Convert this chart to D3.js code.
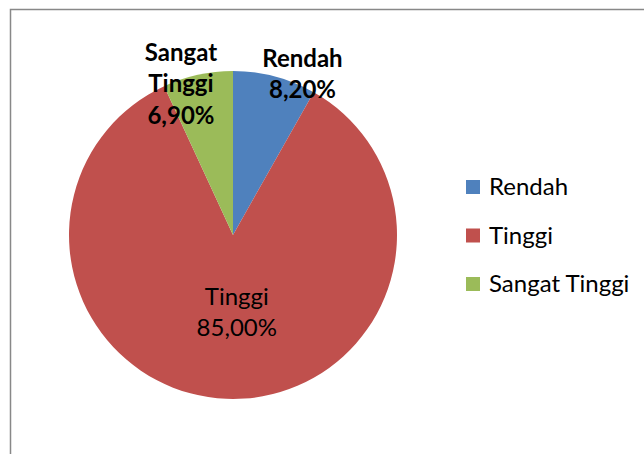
<!DOCTYPE html>
<html>
<head>
<meta charset="utf-8">
<script src="https://cdn.jsdelivr.net/npm/d3@7"></script>
<style>
  body { margin: 0; background: #fff; }
  svg { display: block; font-family: Lato, "Open Sans", sans-serif; }
</style>
</head>
<body>
<svg id="chart" width="644" height="454"></svg>
<script>
// data
var categories = ["Rendah", "Tinggi", "Sangat Tinggi"];
var values = [8.2, 85.0, 6.9];
var valueLabels = ["8,20%", "85,00%", "6,90%"];
var colors = ["#4f81bd", "#c0504d", "#9bbb59"];

var svg = d3.select("#chart");
var width = +svg.attr("width");
var height = +svg.attr("height");

// chart frame (runs off the right / bottom edge like the screenshot)
svg.append("rect")
    .attr("x", 10.5)
    .attr("y", 9.5)
    .attr("width", width + 20)
    .attr("height", height + 20)
    .attr("fill", "#fff")
    .attr("stroke", "#888")
    .attr("stroke-width", 1.5);

var cx = 233, cy = 235, radius = 164;

var pie = d3.pie().sort(null).value(function(d) { return d; });
var arcs = pie(values);
var arc = d3.arc().innerRadius(0).outerRadius(radius);

var g = svg.append("g").attr("transform", "translate(" + cx + "," + cy + ")");

g.selectAll("path.slice")
    .data(arcs)
    .enter().append("path")
    .attr("class", "slice")
    .attr("d", arc)
    .attr("fill", function(d, i) { return colors[i]; });

// labels: big slice inside, small slices outside end (bold)
function polar(angle, r) {
    return [Math.sin(angle) * r, -Math.cos(angle) * r];
}
var lineH = 31.5;
arcs.forEach(function(a, i) {
    var mid = (a.startAngle + a.endAngle) / 2;
    var inside = (a.endAngle - a.startAngle) > Math.PI / 2;
    var lines;
    if (i === 2) lines = ["Sangat", "Tinggi", valueLabels[i]];
    else lines = [categories[i], valueLabels[i]];
    var pos;
    if (inside) pos = polar(mid - 0.09, radius * 0.47);
    else if (i === 0) pos = polar(mid + 0.15, radius * 1.07);
    else pos = polar(mid - 0.115, radius * 0.975);

    var t = g.append("text")
        .attr("text-anchor", "middle")
        .attr("font-size", 24)
        .attr("font-weight", inside ? "normal" : "bold")
        .attr("fill", "#000");
    var top = pos[1] - (lines.length - 1) * lineH / 2;
    lines.forEach(function(s, k) {
        t.append("tspan")
            .attr("x", pos[0])
            .attr("y", top + k * lineH)
            .attr("dy", "0.35em")
            .text(s);
    });
});

// legend
var legendY = d3.scalePoint().domain(categories).range([187, 284]);
var legend = svg.append("g");
var items = legend.selectAll("g.item")
    .data(categories)
    .enter().append("g")
    .attr("class", "item")
    .attr("transform", function(d) { return "translate(466," + legendY(d) + ")"; });
items.append("rect")
    .attr("x", 0).attr("y", -7)
    .attr("width", 14).attr("height", 14)
    .attr("fill", function(d, i) { return colors[i]; });
items.append("text")
    .attr("x", 23)
    .attr("dy", "0.35em")
    .attr("font-size", 24)
    .attr("fill", "#000")
    .text(function(d) { return d; });
</script>
</body>
</html>
